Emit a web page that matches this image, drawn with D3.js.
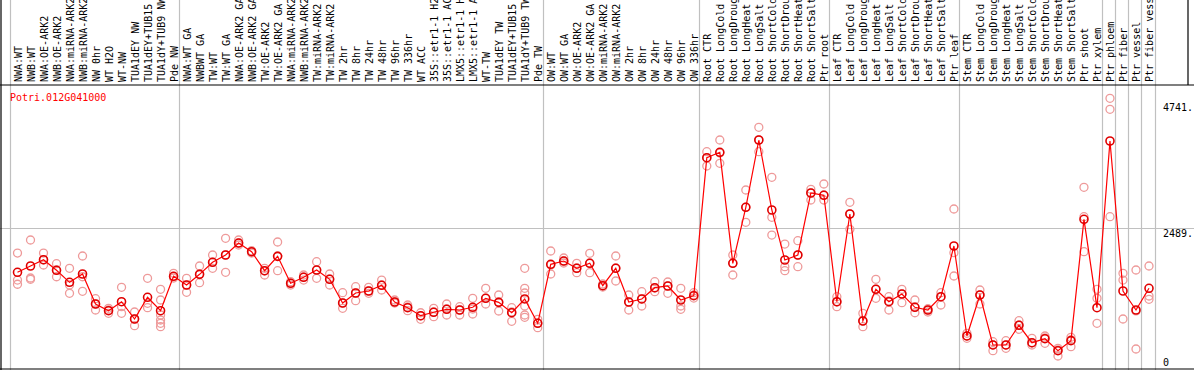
<!DOCTYPE html>
<html>
<head>
<meta charset="utf-8">
<script src="https://cdn.jsdelivr.net/npm/d3@7"></script>
<style>
  body { margin: 0; background: #fff; }
  svg text { font-family: "DejaVu Sans Mono", "Liberation Mono", monospace; font-size: 10px; }
</style>
</head>
<body>
<svg id="chart" width="1194" height="370"></svg>
<script>
// sample names, left to right
var samples = [
  "NWA:WT", "NWB:WT", "NWA:OE-ARK2", "NWB:OE-ARK2", "NWA:miRNA-ARK2", "NWB:miRNA-ARK2",
  "NW 0hr", "WT H2O", "WT-NW", "TUA1dEY NW", "TUA1dEY+TUB15 NW", "TUA1dY+TUB9 NW", "Pde NW",
  "NWA:WT GA", "NWBWT GA", "TW:WT", "TW:WT GA", "NWA:OE-ARK2 GA", "NWB:OE-ARK2 GA", "TW:OE-ARK2",
  "TW:OE-ARK2 GA", "NWA:miRNA-ARK2 GA", "NWB:miRNA-ARK2 GA", "TW:miRNA-ARK2", "TW:miRNA-ARK2 GA",
  "TW 2hr", "TW 8hr", "TW 24hr", "TW 48hr", "TW 96hr", "TW 336hr", "WT ACC",
  "35S::etr1-1 H2O", "35S::etr1-1 ACC", "LMX5::etr1-1 H2O", "LMX5::etr1-1 ACC", "WT-TW",
  "TUA1dEY TW", "TUA1dEY+TUB15 TW", "TUA1dY+TUB9 TW", "Pde TW",
  "OW:WT", "OW:WT GA", "OW:OE-ARK2", "OW:OE-ARK2 GA", "OW:miRNA-ARK2", "OW:miRNA-ARK2 GA",
  "OW 2hr", "OW 8hr", "OW 24hr", "OW 48hr", "OW 96hr", "OW 336hr",
  "Root CTR", "Root LongCold", "Root LongDrought", "Root LongHeat", "Root LongSalt",
  "Root ShortCold", "Root ShortDrought", "Root ShortHeat", "Root ShortSalt", "Ptr root",
  "Leaf CTR", "Leaf LongCold", "Leaf LongDrought", "Leaf LongHeat", "Leaf LongSalt",
  "Leaf ShortCold", "Leaf ShortDrought", "Leaf ShortHeat", "Leaf ShortSalt", "Ptr leaf",
  "Stem CTR", "Stem LongCold", "Stem LongDrought", "Stem LongHeat", "Stem LongSalt",
  "Stem ShortCold", "Stem ShortDrought", "Stem ShortHeat", "Stem ShortSalt", "Ptr shoot",
  "Ptr xylem", "Ptr phloem", "Ptr fiber", "Ptr vessel", "Ptr fiber vessel"
];

// how many samples in each block between the grey separators
var groupSizes = [13, 28, 12, 10, 10, 11, 1, 1, 1, 1];

var means = [
  1694, 1807, 1920, 1730, 1515, 1664, 1127, 1007, 1168, 859, 1247, 1007, 1623,
  1467, 1658, 1873, 2004, 2218, 2063, 1723, 1980, 1497, 1605, 1735, 1569,
  1145, 1324, 1360, 1462, 1163, 1061, 918, 979, 1032, 1020, 1068, 1229,
  1157, 971, 1217, 782,
  1837, 1896, 1766, 1855, 1454, 1766, 1163, 1217, 1419, 1449, 1199, 1276,
  3744, 3841, 1855, 2857, 4061, 2809, 1914, 2004, 3113, 3072,
  1168, 2737, 823, 1390, 1168, 1306, 1068, 1020, 1258, 2165,
  555, 1288, 394, 394, 746, 435, 506, 292, 471, 2642, 1061,
  4043, 1360, 1020, 1408
];

var replicates = [
  [2039, 1556, 1480], [2272, 1592, 1569], [2039, 1825, 1914], [1848, 1615, 1735],
  [1766, 1467, 1318], [1986, 1615, 1354], [1222, 1020, 1127], [1050, 961, 1020],
  [1426, 961, 1079], [984, 739, 859], [1587, 1140, 1061],
  [1390, 1199, 930, 841, 782, 721], [1676, 1623, 1592],
  [1587, 1336, 1467], [1807, 1508, 1664], [2004, 1766, 1878], [2302, 1694, 2004],
  [2272, 2183, 2218], [2081, 2039, 2057], [1646, 1766, 1717], [2236, 1723, 1986],
  [1526, 1467, 1503], [1646, 1556, 1610], [1884, 1587, 1735], [1664, 1467, 1574],
  [1329, 1050, 1145], [1437, 1186, 1324], [1426, 1318, 1360], [1556, 1378, 1467],
  [1199, 1145, 1163], [1109, 1007, 1073], [971, 853, 912], [1050, 900, 984],
  [1127, 930, 1038], [1079, 930, 1020], [1229, 948, 1038], [1408, 1127, 1234],
  [1288, 1002, 1163], [1061, 818, 984], [1766, 1408, 1324, 1091, 930, 889],
  [853, 703, 787],
  [2075, 1664, 1825], [1950, 1861, 1896], [1855, 1687, 1771], [2034, 1687, 1861],
  [1485, 1431, 1454], [1986, 1539, 1771], [1288, 1020, 1163], [1347, 1091, 1217],
  [1526, 1347, 1413], [1521, 1318, 1449], [1408, 1091, 1032], [1329, 1234, 1288],
  [3852, 3596, 3739], [4061, 3644, 3828], [2004, 1646, 1861], [3167, 2589, 2862],
  [4288, 3852, 4061], [3394, 2678, 2361], [2200, 1794, 1723], [2260, 1794, 2004],
  [3179, 2988, 3113], [3274, 2988, 3077],
  [1258, 1079, 1163], [2946, 2463, 2737], [960, 721, 823], [1569, 1229, 1395],
  [1258, 1020, 1181], [1390, 1150, 1306], [1199, 971, 1073], [1043, 984, 1020],
  [1329, 1109, 1252], [2827, 2045, 1628],
  [603, 513, 555], [1378, 1127, 1288], [453, 292, 394], [471, 335, 394],
  [828, 674, 751], [513, 394, 429], [555, 424, 519], [335, 197, 304],
  [531, 363, 483], [3215, 2689, 2063], [1390, 1229, 782],
  [4807, 4610, 2689], [1676, 1556, 859], [1735, 322, 1003], [1807, 1270, 1211]
];

var geneName = "Potri.012G041000";
var tickValues = [4741, 2489, 0];
var tickLabels = ["4741.", "2489.", "0"];

var width = 1194, height = 370;
var headerBottom = 85;
var svg = d3.select("#chart");

var x = d3.scalePoint()
  .domain(d3.range(samples.length))
  .range([17.5, 1149]);
var step = x.step();

var y = d3.scaleLinear()
  .domain([0, 4741])
  .range([367, 102]);

// grey separators between sample blocks
var bounds = [0];
groupSizes.forEach(function (n) { bounds.push(bounds[bounds.length - 1] + n); });
svg.selectAll("line.sep")
  .data(bounds)
  .enter().append("line")
  .attr("class", "sep")
  .attr("x1", function (d) { return Math.round(x(0) + (d - 0.5) * step) - 0.5; })
  .attr("x2", function (d) { return Math.round(x(0) + (d - 0.5) * step) - 0.5; })
  .attr("y1", 0)
  .attr("y2", height)
  .style("stroke", "#c0c0c0")
  .style("stroke-width", 1.2);

// grey mid line
svg.append("line")
  .attr("x1", 0).attr("x2", width)
  .attr("y1", Math.round(y(tickValues[1])) + 0.5)
  .attr("y2", Math.round(y(tickValues[1])) + 0.5)
  .style("stroke", "#c0c0c0")
  .style("stroke-width", 1.2);

// frame
svg.append("line").attr("x1", 1).attr("x2", 1).attr("y1", 0).attr("y2", height)
  .style("stroke", "#000").style("stroke-width", 1.2);
svg.append("line").attr("x1", 0).attr("x2", width).attr("y1", headerBottom).attr("y2", headerBottom)
  .style("stroke", "#000").style("stroke-width", 1.2);
svg.append("line").attr("x1", 0).attr("x2", width).attr("y1", height - 1).attr("y2", height - 1)
  .style("stroke", "#000").style("stroke-width", 1.2);
svg.append("line").attr("x1", 1188).attr("x2", 1188).attr("y1", 0).attr("y2", headerBottom)
  .style("stroke", "#000").style("stroke-width", 1.2);

// rotated sample labels
svg.selectAll("text.sample")
  .data(samples)
  .enter().append("text")
  .attr("class", "sample")
  .attr("transform", function (d, i) { return "translate(" + (x(i) + 4) + ",82) rotate(-90)"; })
  .style("fill", "#000")
  .text(function (d) { return d; });

// gene name
svg.append("text")
  .attr("x", 10)
  .attr("y", 101)
  .style("fill", "#ff0000")
  .text(geneName);

// right-hand value labels
svg.selectAll("text.tick")
  .data(tickValues)
  .enter().append("text")
  .attr("class", "tick")
  .attr("x", 1163)
  .attr("y", function (d, i) { return Math.min(y(d) + 9, 366); })
  .style("fill", "#000")
  .text(function (d, i) { return tickLabels[i]; });

// replicate points
var repPoints = [];
replicates.forEach(function (arr, i) {
  arr.forEach(function (v) { repPoints.push({ i: i, v: v }); });
});
svg.selectAll("circle.rep")
  .data(repPoints)
  .enter().append("circle")
  .attr("class", "rep")
  .attr("cx", function (d) { return x(d.i); })
  .attr("cy", function (d) { return y(d.v); })
  .attr("r", 4)
  .style("fill", "none")
  .style("stroke", "#ee9a9a")
  .style("stroke-width", 1.3);

// mean line
var line = d3.line()
  .x(function (d, i) { return x(i); })
  .y(function (d) { return y(d); });
svg.append("path")
  .datum(means)
  .attr("d", line)
  .style("fill", "none")
  .style("stroke", "#ff0000")
  .style("stroke-width", 1.2);

svg.selectAll("circle.mean")
  .data(means)
  .enter().append("circle")
  .attr("class", "mean")
  .attr("cx", function (d, i) { return x(i); })
  .attr("cy", function (d) { return y(d); })
  .attr("r", 4)
  .style("fill", "none")
  .style("stroke", "#e00000")
  .style("stroke-width", 1.6);
</script>
</body>
</html>
